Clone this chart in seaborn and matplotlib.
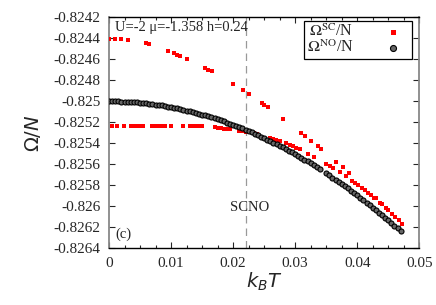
import seaborn as sns
import pandas as pd
import matplotlib.pyplot as plt

# NO phase: Omega/N vs k_B T
t_no = [0.0, 0.0005, 0.001, 0.0015, 0.002, 0.0025, 0.003, 0.0035, 0.004, 0.0045,
        0.005, 0.0055, 0.006, 0.0065, 0.007, 0.0075, 0.008, 0.0085, 0.009, 0.0095,
        0.01, 0.0105, 0.011, 0.0115, 0.012, 0.0125, 0.013, 0.0135, 0.014, 0.0145,
        0.015, 0.0155, 0.016, 0.0165, 0.017, 0.0175, 0.018, 0.0185, 0.019, 0.0195,
        0.02, 0.0205, 0.021, 0.0215, 0.022, 0.0225, 0.023, 0.0235, 0.024, 0.0245,
        0.025, 0.0255, 0.026, 0.0265, 0.027, 0.0275, 0.028, 0.0285, 0.029, 0.0295,
        0.03, 0.0305, 0.031, 0.0315, 0.032, 0.0325, 0.033, 0.0335, 0.034,
        0.035, 0.0355, 0.036, 0.0365, 0.037, 0.0375, 0.038, 0.0385, 0.039, 0.0395,
        0.04, 0.0405, 0.041, 0.0415, 0.042, 0.0425, 0.043, 0.0435, 0.044, 0.0445,
        0.045, 0.0455, 0.046, 0.0465, 0.047]
omega_no = [-0.825000, -0.825000, -0.825001, -0.825001, -0.825002, -0.825004, -0.825005, -0.825007, -0.825009, -0.825011,
            -0.825014, -0.825017, -0.825020, -0.825024, -0.825027, -0.825032, -0.825036, -0.825040, -0.825045, -0.825051,
            -0.825056, -0.825062, -0.825068, -0.825074, -0.825081, -0.825088, -0.825095, -0.825102, -0.825110, -0.825118,
            -0.825126, -0.825135, -0.825143, -0.825152, -0.825162, -0.825172, -0.825181, -0.825192, -0.825202, -0.825213,
            -0.825224, -0.825235, -0.825247, -0.825259, -0.825271, -0.825284, -0.825296, -0.825309, -0.825323, -0.825336,
            -0.825350, -0.825364, -0.825379, -0.825393, -0.825408, -0.825424, -0.825439, -0.825455, -0.825471, -0.825487,
            -0.825504, -0.825521, -0.825538, -0.825556, -0.825573, -0.825592, -0.825610, -0.825628, -0.825647,
            -0.825686, -0.825706, -0.825726, -0.825746, -0.825767, -0.825788, -0.825809, -0.825830, -0.825852, -0.825874,
            -0.825896, -0.825919, -0.825941, -0.825964, -0.825988, -0.826012, -0.826035, -0.826060, -0.826084, -0.826109,
            -0.826134, -0.826159, -0.826185, -0.826211, -0.826237]

# SC solutions (scattered)
t_sc = [0.0005, 0.0013, 0.0024, 0.0035, 0.004, 0.0045, 0.005, 0.0055, 0.007, 0.0075,
        0.008, 0.0085, 0.009, 0.01, 0.012, 0.013, 0.0135, 0.014, 0.0145, 0.015,
        0.017, 0.0175, 0.018, 0.0185, 0.019, 0.0195, 0.021, 0.0215, 0.022,
        0.0233, 0.0238, 0.026, 0.0264, 0.0269, 0.0275, 0.0285, 0.0291, 0.0296, 0.0302, 0.0307,
        0.0, 0.001, 0.0019, 0.003, 0.0059, 0.0065, 0.0095, 0.0104, 0.0109, 0.0115,
        0.0125, 0.0155, 0.016, 0.0166, 0.02, 0.0216, 0.0226, 0.0246, 0.025, 0.0256,
        0.028, 0.031, 0.0316, 0.0326, 0.0336, 0.0341, 0.032, 0.033, 0.035, 0.0356,
        0.0361, 0.0366, 0.0372, 0.0377, 0.0382, 0.0386, 0.0391, 0.0396, 0.0402, 0.0407,
        0.0412, 0.0417, 0.0422, 0.0427, 0.0431, 0.0436, 0.044, 0.0446, 0.045, 0.0456,
        0.0461, 0.0467, 0.0472]
omega_sc = [-0.825235, -0.825235, -0.825235, -0.825235, -0.825235, -0.825235, -0.825235, -0.825236, -0.825236, -0.825236,
            -0.825236, -0.825236, -0.825236, -0.825237, -0.825237, -0.825238, -0.825238, -0.825239, -0.825239, -0.825240,
            -0.825248, -0.825252, -0.825256, -0.825260, -0.825264, -0.825268, -0.825280, -0.825284, -0.825288,
            -0.825298, -0.825311, -0.825350, -0.825362, -0.825371, -0.825381, -0.825400, -0.825412, -0.825426, -0.825445, -0.825457,
            -0.824403, -0.824403, -0.824407, -0.824412, -0.824445, -0.824457, -0.824517, -0.824543, -0.824559, -0.824569,
            -0.824593, -0.824683, -0.824698, -0.824714, -0.824838, -0.824895, -0.824935, -0.825016, -0.825035, -0.825057,
            -0.825167, -0.825300, -0.825327, -0.825378, -0.825427, -0.825450, -0.825500, -0.825531, -0.825598, -0.825614,
            -0.825635, -0.825579, -0.825676, -0.825629, -0.825708, -0.825683, -0.825755, -0.825778, -0.825797, -0.825822,
            -0.825848, -0.825870, -0.825895, -0.825921, -0.825924, -0.825965, -0.825974, -0.826016, -0.826038, -0.826070,
            -0.826098, -0.826133, -0.826165]

t_transition = 0.022
x_ticks = [0, 0.01, 0.02, 0.03, 0.04, 0.05]
y_ticks = [-0.8264, -0.8262, -0.826, -0.8258, -0.8256, -0.8254, -0.8252, -0.825,
           -0.8248, -0.8246, -0.8244, -0.8242]

no_df = pd.DataFrame({'T': t_no, 'omega': omega_no})
sc_df = pd.DataFrame({'T': t_sc, 'omega': omega_sc})

sns.set_style('ticks')
serif = 'Liberation Serif'

fig, ax = plt.subplots(figsize=(4.36, 3.05), dpi=100)
fig.subplots_adjust(left=0.25, right=0.9617, top=0.9433, bottom=0.1859)

sns.scatterplot(x='T', y='omega', data=sc_df, ax=ax, marker='s', color='#ff0000',
                s=9, linewidth=0, label=r'$\Omega^{\rm SC}$/N', zorder=3)
sns.scatterplot(x='T', y='omega', data=no_df, ax=ax, marker='o', facecolor='#666666',
                edgecolor='black', s=13, linewidth=0.8, label=r'$\Omega^{\rm NO}$/N', zorder=4)

ax.axvline(t_transition, color='#999999', ls=(0, (6, 4)), lw=0.9, zorder=1)

ax.set_xlim(0, 0.05)
ax.set_ylim(-0.8264, -0.8242)
ax.set_xticks(x_ticks)
ax.set_xticklabels([f'{v:g}' for v in x_ticks], family=serif, fontsize=11)
ax.set_xticks([i * 0.0025 for i in range(21)], minor=True)
ax.set_yticks(y_ticks)
ax.set_yticklabels([f'{v:g}' for v in y_ticks], family=serif, fontsize=11)
ax.tick_params(which='both', direction='in', top=True, right=True, length=4, width=0.8, pad=6)
ax.tick_params(which='minor', length=2.5)
ax.tick_params(axis='y', pad=6)

for side in ['top', 'bottom']:
    ax.spines[side].set_color('black')
    ax.spines[side].set_linewidth(1.0)
for side in ['left', 'right']:
    ax.spines[side].set_color('#888888')
    ax.spines[side].set_linewidth(1.3)

ax.set_xlabel(r'$k_BT$', fontsize=14, labelpad=1)
ax.set_ylabel(r'$\Omega/N$', fontsize=14, labelpad=8)

ax.text(0.02, 0.985, 'U=-2 μ=-1.358 h=0.24', transform=ax.transAxes, ha='left', va='top',
        family=serif, fontsize=10.5)
ax.text(0.02, 0.03, '(c)', transform=ax.transAxes, ha='left', va='bottom',
        family=serif, fontsize=10.5)
ax.text(0.0227, -0.82601, 'SCNO', ha='center', va='center', family=serif, fontsize=10.5)

leg = ax.legend(loc='upper right', bbox_to_anchor=(0.975, 0.985), borderaxespad=0,
                markerfirst=False, fancybox=False, framealpha=1, edgecolor='black',
                prop={'family': serif, 'size': 11.5, 'math_fontfamily': 'stix'},
                handletextpad=1.5, borderpad=0.15, labelspacing=0.0, markerscale=1.2)
leg.get_frame().set_linewidth(0.9)

fig.savefig('out.png', dpi=100)
